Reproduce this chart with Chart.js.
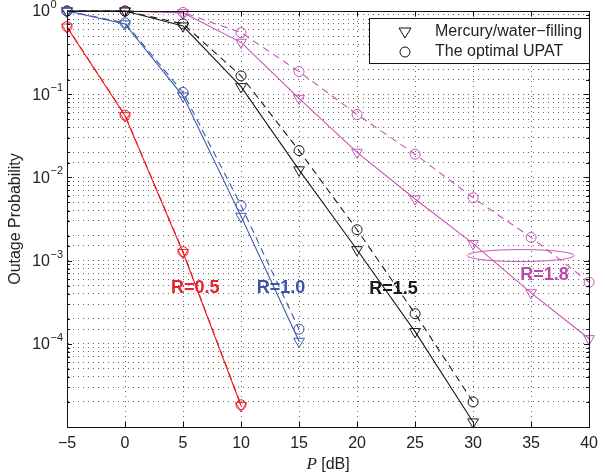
<!DOCTYPE html>
<html>
<head>
<meta charset="utf-8">
<script src="https://cdn.jsdelivr.net/npm/chart.js"></script>
<style>
  html, body { margin: 0; padding: 0; background: #fff; }
  #wrap { width: 605px; height: 476px; }
</style>
</head>
<body>
<div id="wrap"><canvas id="chart" width="605" height="476"></canvas></div>
<script>
// P [dB] values
const pdb = [-5, 0, 5, 10, 15, 20, 25, 30, 35, 40];

// outage probability
const r05Mercury = [0.64, 0.055, 1.25e-3, 1.8e-5];
const r05Upat    = [0.65, 0.056, 1.28e-3, 1.85e-5];
const r10Mercury = [1.0, 0.70, 0.095, 3.4e-3, 1.07e-4];
const r10Upat    = [1.0, 0.72, 0.105, 4.6e-3, 1.5e-4];
const r15Mercury = [1.0, 1.0, 0.66, 0.123, 0.0123, 1.35e-3, 1.4e-4, 1.15e-5];
const r15Upat    = [1.0, 1.0, 0.70, 0.166, 0.021, 2.35e-3, 2.3e-4, 2.0e-5];
const r18Mercury = [1.0, 1.0, 0.95, 0.42, 0.089, 0.020, 5.5e-3, 1.6e-3, 4.1e-4, 1.15e-4];
const r18Upat    = [1.0, 1.0, 0.96, 0.55, 0.187, 0.057, 0.019, 5.7e-3, 1.9e-3, 5.5e-4];

const yPowers = [0, -1, -2, -3, -4];
const legendLabels = ["Mercury/water\u2212filling", "The optimal UPAT"];

// rate labels: [text, x, y, colour]
const rateLabels = [
    ["R=0.5", 6.05, 4.7e-4, "#e8202a"],
    ["R=1.0", 13.45, 4.7e-4, "#3a55a8"],
    ["R=1.5", 23.15, 4.6e-4, "#1a1a1a"],
    ["R=1.8", 36.15, 6.8e-4, "#b94aa5"],
];

const RED = "#ec1c24", BLUE = "#3c58b0", BLACK = "#1a1a1a", MAG = "#c555b8";

function pts(vals) {
    return vals.map((v, i) => ({ x: pdb[i], y: v }));
}

function series(label, vals, color, isUpat) {
    return {
        label: label,
        data: pts(vals),
        borderColor: color,
        backgroundColor: "rgba(0,0,0,0)",
        borderWidth: 1.1,
        borderDash: isUpat ? [7, 5] : [],
        pointStyle: isUpat ? "circle" : "triangle",
        rotation: isUpat ? 0 : 180,
        pointRadius: isUpat ? 5 : 6.2,
        pointBorderWidth: 1,
        pointBorderColor: color,
        pointBackgroundColor: "rgba(0,0,0,0)",
        tension: 0,
        clip: false,
    };
}

const FONT = "'Liberation Sans', Arial, sans-serif";

const decorPlugin = {
    id: "decor",
    afterDraw(chart) {
        const ctx = chart.ctx;
        const a = chart.chartArea;
        const xs = chart.scales.x, ys = chart.scales.y;
        ctx.save();

        // box
        ctx.strokeStyle = "#111";
        ctx.lineWidth = 1;
        ctx.setLineDash([]);
        ctx.strokeRect(Math.round(a.left) + 0.5, Math.round(a.top) + 0.5,
            Math.round(a.right - a.left), Math.round(a.bottom - a.top));

        // inward ticks
        ctx.beginPath();
        xs.ticks.forEach(t => {
            const px = Math.round(xs.getPixelForValue(t.value)) + 0.5;
            ctx.moveTo(px, a.bottom); ctx.lineTo(px, a.bottom - 5);
            ctx.moveTo(px, a.top); ctx.lineTo(px, a.top + 5);
        });
        ys.ticks.forEach(t => {
            const py = Math.round(ys.getPixelForValue(t.value)) + 0.5;
            const lg = Math.log10(t.value);
            const len = Math.abs(lg - Math.round(lg)) < 1e-6 ? 5 : 3;
            ctx.moveTo(a.left, py); ctx.lineTo(a.left + len, py);
            ctx.moveTo(a.right, py); ctx.lineTo(a.right - len, py);
        });
        ctx.stroke();

        // y tick labels 10^n
        ctx.fillStyle = "#222";
        ctx.textBaseline = "middle";
        yPowers.forEach(p => {
            const py = ys.getPixelForValue(Math.pow(10, p));
            ctx.font = "16px " + FONT;
            ctx.textAlign = "right";
            ctx.fillText("10", 50, py + 1);
            ctx.font = "11px " + FONT;
            ctx.textAlign = "left";
            ctx.fillText(p === 0 ? "0" : "\u2212" + Math.abs(p), 50.5, py - 6);
        });

        // axis titles
        ctx.save();
        ctx.translate(16, (a.top + a.bottom) / 2);
        ctx.rotate(-Math.PI / 2);
        ctx.font = "16px " + FONT;
        ctx.textAlign = "center";
        ctx.textBaseline = "middle";
        ctx.fillText("Outage Probability", 0, 0);
        ctx.restore();

        const cx = (a.left + a.right) / 2;
        ctx.textBaseline = "middle";
        ctx.font = "italic 17px 'Liberation Serif', 'Times New Roman', serif";
        const pw = ctx.measureText("P").width;
        ctx.font = "16px " + FONT;
        const rest = " [dB]";
        const rw = ctx.measureText(rest).width;
        const x0 = cx - (pw + rw) / 2;
        ctx.textAlign = "left";
        ctx.font = "italic 17px 'Liberation Serif', 'Times New Roman', serif";
        ctx.fillText("P", x0, 465);
        ctx.font = "16px " + FONT;
        ctx.fillText(rest, x0 + pw, 465);

        // rate labels
        ctx.font = "bold 18px " + FONT;
        ctx.textAlign = "center";
        rateLabels.forEach(([txt, x, y, c]) => {
            ctx.fillStyle = c;
            ctx.fillText(txt, xs.getPixelForValue(x), ys.getPixelForValue(y));
        });

        // ellipse around R=1.8 curves near 1e-3
        ctx.strokeStyle = MAG;
        ctx.lineWidth = 1;
        ctx.beginPath();
        const ex = xs.getPixelForValue(34.1), ey = ys.getPixelForValue(1.15e-3);
        const erx = xs.getPixelForValue(34.1 + 4.6) - ex;
        ctx.ellipse(ex, ey, erx, 6, 0, 0, Math.PI * 2);
        ctx.stroke();

        // legend
        const lx = 369, ly = 18, lw = 220, lh = 45;
        ctx.fillStyle = "#fff";
        ctx.fillRect(lx, ly, lw, lh);
        ctx.strokeStyle = "#111";
        ctx.strokeRect(lx + 0.5, ly + 0.5, lw, lh);
        ctx.fillStyle = "#222";
        ctx.font = "16px " + FONT;
        ctx.textAlign = "left";
        ctx.textBaseline = "middle";
        ctx.fillText(legendLabels[0], 435, 32);
        ctx.fillText(legendLabels[1], 435, 52);
        ctx.strokeStyle = "#111";
        ctx.beginPath();
        ctx.moveTo(399, 28); ctx.lineTo(411, 28); ctx.lineTo(405, 38); ctx.closePath();
        ctx.stroke();
        ctx.beginPath();
        ctx.arc(405, 52, 5, 0, Math.PI * 2);
        ctx.stroke();

        ctx.restore();
    }
};

const GRID = "rgba(0,0,0,0.6)";

new Chart(document.getElementById("chart"), {
    type: "line",
    data: {
        datasets: [
            series("R=0.5 Mercury", r05Mercury, RED, false),
            series("R=0.5 UPAT", r05Upat, RED, true),
            series("R=1.0 Mercury", r10Mercury, BLUE, false),
            series("R=1.0 UPAT", r10Upat, BLUE, true),
            series("R=1.5 Mercury", r15Mercury, BLACK, false),
            series("R=1.5 UPAT", r15Upat, BLACK, true),
            series("R=1.8 Mercury", r18Mercury, MAG, false),
            series("R=1.8 UPAT", r18Upat, MAG, true),
        ]
    },
    options: {
        responsive: false,
        animation: false,
        devicePixelRatio: 1,
        layout: { padding: { top: 11, right: 9, left: 0, bottom: 0 } },
        plugins: { legend: { display: false }, tooltip: { enabled: false } },
        scales: {
            x: {
                type: "linear",
                min: -5,
                max: 40,
                ticks: {
                    stepSize: 5,
                    padding: 7,
                    color: "#222",
                    font: { family: FONT, size: 16 },
                    callback: v => String(v).replace("-", "\u2212"),
                },
                grid: { color: GRID, lineWidth: 1, drawTicks: false },
                border: { display: true, color: "#111", dash: [1, 4] },
                afterFit: s => { s.height = 49; },
            },
            y: {
                type: "logarithmic",
                min: 1e-5,
                max: 1,
                ticks: { callback: () => "", autoSkip: false },
                grid: { color: GRID, lineWidth: 1, drawTicks: false },
                border: { display: true, color: "#111", dash: [1, 4] },
                afterFit: s => { s.width = 67; },
            }
        }
    },
    plugins: [decorPlugin]
});
</script>
</body>
</html>
